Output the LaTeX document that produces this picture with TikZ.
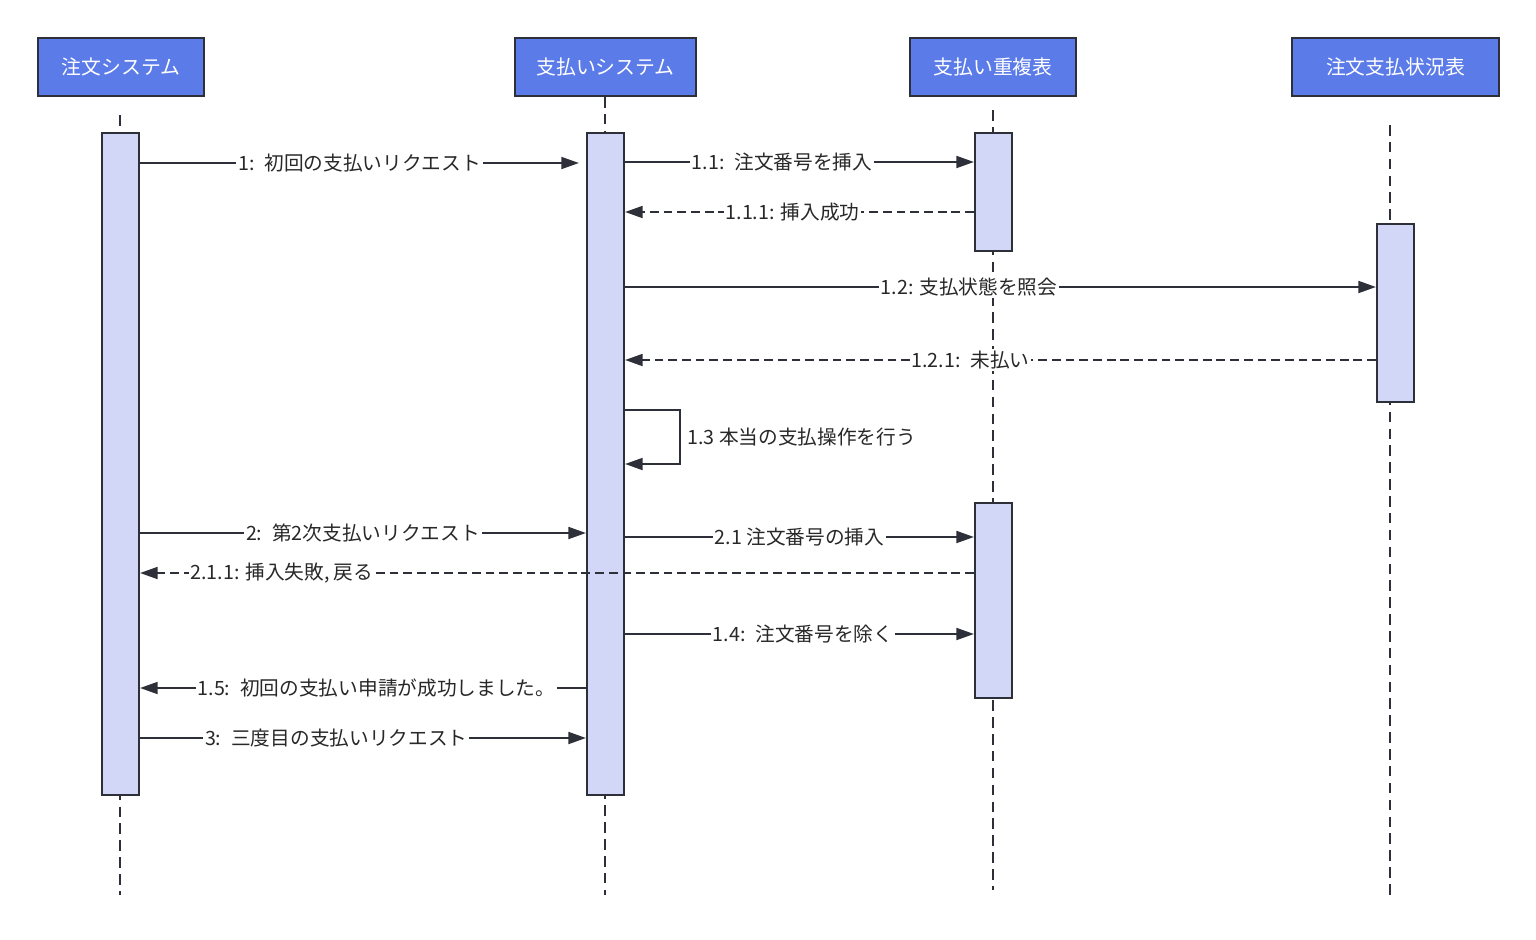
\documentclass[tikz,border=0pt]{standalone}
\usepackage{fontspec}
\setmainfont{Noto Sans CJK JP}
\usetikzlibrary{arrows.meta,fit}
\definecolor{hdrblue}{RGB}{91,123,232}
\definecolor{barfill}{RGB}{211,215,247}
\definecolor{ink}{RGB}{45,48,56}
\definecolor{txt}{RGB}{40,40,40}
\begin{document}
\begin{tikzpicture}[x=0.02cm,y=-0.02cm,
  hdr/.style={draw=ink,line width=1.2pt,fill=hdrblue,text=white,inner sep=0pt,minimum height=1.16cm,font=\fontsize{11.3pt}{13pt}\selectfont},
  actbar/.style={draw=ink,line width=1.2pt,fill=barfill,inner sep=0pt},
  lifeline/.style={draw=ink,line width=1.3pt,dash pattern=on 6pt off 3.6pt},
  msg/.style={draw=ink,line width=1.1pt,-{Triangle[length=10pt,width=6.8pt]}},
  reply/.style={msg,dash pattern=on 5pt off 2.8pt},
  lbl/.style={fill=white,text=txt,inner sep=1pt,font=\fontsize{11.2pt}{13pt}\selectfont}]
  \useasboundingbox (0,0) rectangle (1536,940);
  \node[hdr,minimum width=3.32cm] (h1) at (121,67) {注文システム};
  \node[hdr,minimum width=3.62cm] (h2) at (605.5,67) {支払いシステム};
  \node[hdr,minimum width=3.32cm] (h3) at (993,67) {支払い重複表};
  \node[hdr,minimum width=4.14cm] (h4) at (1395.5,67) {注文支払状況表};
  \draw[lifeline] (120,115) -- (120,895);
  \draw[lifeline] (605,97) -- (605,895);
  \draw[lifeline] (993,110) -- (993,890);
  \draw[lifeline] (1390,125) -- (1390,900);
  \node[actbar,fit={(102,133) (139,795)}] (a1) {};
  \node[actbar,fit={(587,133) (624,795)}] (b1) {};
  \node[actbar,fit={(975,133) (1012,251)}] (c1) {};
  \node[actbar,fit={(975,503) (1012,698)}] (c2) {};
  \node[actbar,fit={(1377,224) (1414,402)}] (d1) {};
  \draw[msg] (a1.east |- 0,163) -- node[lbl] {1:\enspace 初回の支払いリクエスト} ([xshift=-4pt]b1.west |- 0,163);
  \draw[msg] (b1.east |- 0,162) -- node[lbl,pos=0.45] {1.1:\enspace 注文番号を挿入} (c1.west |- 0,162);
  \draw[reply] (c1.west |- 0,212) -- node[lbl,pos=0.52] {1.1.1: 挿入成功} (b1.east |- 0,212);
  \draw[msg] (b1.east |- 0,287) -- node[lbl,pos=0.458] {1.2: 支払状態を照会} (d1.west |- 0,287);
  \draw[reply] (d1.west |- 0,360) -- node[lbl,pos=0.54] {1.2.1:\enspace 未払い} (b1.east |- 0,360);
  \coordinate (loopr) at (680,437);
  \draw[msg] (b1.east |- 0,410) -| (loopr) |- (b1.east |- 0,464);
  \node[lbl,anchor=west,fill=none] at ([xshift=3pt]loopr) {1.3 本当の支払操作を行う};
  \draw[msg] (a1.east |- 0,533) -- node[lbl] {2:\enspace 第2次支払いリクエスト} (b1.west |- 0,533);
  \draw[msg] (b1.east |- 0,537) -- node[lbl] {2.1 注文番号の挿入} (c2.west |- 0,537);
  \draw[reply] (c2.west |- 0,573) -- node[lbl,pos=0.83] {2.1.1: 挿入失敗, 戻る} (a1.east |- 0,573);
  \draw[msg] (b1.east |- 0,634) -- node[lbl,pos=0.51] {1.4:\enspace 注文番号を除く} (c2.west |- 0,634);
  \draw[msg] (b1.west |- 0,688) -- node[lbl,pos=0.47] {1.5:\enspace 初回の支払い申請が成功しました。} (a1.east |- 0,688);
  \draw[msg] (a1.east |- 0,738) -- node[lbl,pos=0.44] {3:\enspace 三度目の支払いリクエスト} (b1.west |- 0,738);
\end{tikzpicture}
\end{document}
